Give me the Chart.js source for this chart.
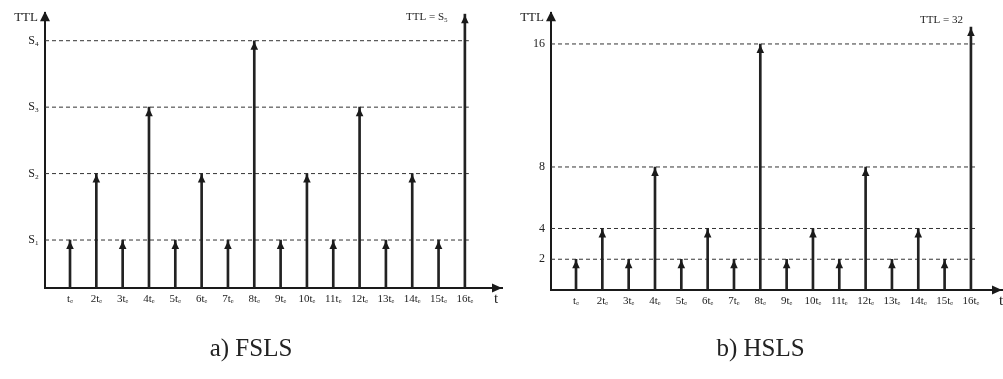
<!DOCTYPE html>
<html><head><meta charset="utf-8">
<script src="https://cdn.jsdelivr.net/npm/chart.js@4.4.1/dist/chart.umd.min.js"></script>
<style>
html,body{margin:0;padding:0;background:#fff;width:1003px;height:379px;overflow:hidden}
#a{position:absolute;left:0;top:0;width:512px;height:379px}
#b{position:absolute;left:519px;top:0;width:484px;height:379px}
</style></head><body>
<div id="a"><canvas id="ca"></canvas></div>
<div id="b"><canvas id="cb"></canvas></div>
<script>
// ---- data ----
const timeSlots = [1,2,3,4,5,6,7,8,9,10,11,12,13,14,15,16];
const timeLabels = ['tₑ','2tₑ','3tₑ','4tₑ','5tₑ','6tₑ','7tₑ','8tₑ','9tₑ','10tₑ','11tₑ','12tₑ','13tₑ','14tₑ','15tₑ','16tₑ'];

const fslsLevelValues = [1,2,3,4];
const fslsLevelLabels = ['S₁','S₂','S₃','S₄'];
// S5 (last slot) is drawn at the top of the axis
const fslsTTL = [1,2,1,3,1,2,1,4,1,2,1,3,1,2,1,4.4];
const fslsTopLabel = 'TTL = S₅';

const hslsLevelValues = [2,4,8,16];
const hslsLevelLabels = ['2','4','8','16'];
// TTL = 32 (last slot) is drawn truncated near the top of the axis
const hslsTTL = [2,4,2,8,2,4,2,16,2,4,2,8,2,4,2,17.1];
const hslsTopLabel = 'TTL = 32';

const SERIF = "'Liberation Serif','DejaVu Serif','Times New Roman',serif";
const INK = '#1a1a1a';

const decor = {
  id: 'decor',
  afterDatasetsDraw(chart, args, o) {
    const {ctx} = chart;
    const meta = chart.getDatasetMeta(0);
    ctx.save();
    ctx.fillStyle = INK;
    meta.data.forEach(el => {
      const x = el.x, y = el.y + 1;
      ctx.beginPath();
      ctx.moveTo(x, y);
      ctx.lineTo(x - 3.8, y + 8);
      ctx.lineTo(x + 3.8, y + 8);
      ctx.closePath();
      ctx.fill();
    });
    const last = meta.data[meta.data.length - 1];
    ctx.font = '11px ' + SERIF;
    ctx.fillStyle = '#222';
    ctx.textAlign = 'right';
    ctx.textBaseline = 'middle';
    ctx.fillText(o.topLabel, last.x + o.topDx, o.topY);
    ctx.restore();
  },
  afterDraw(chart, args, o) {
    const {ctx, chartArea: ca} = chart;
    ctx.save();
    ctx.fillStyle = INK;
    ctx.beginPath();
    ctx.moveTo(ca.left, ca.top - 2);
    ctx.lineTo(ca.left - 5, ca.top + 8);
    ctx.lineTo(ca.left + 5, ca.top + 8);
    ctx.closePath();
    ctx.fill();
    ctx.beginPath();
    ctx.moveTo(ca.right, ca.bottom);
    ctx.lineTo(ca.right - 10, ca.bottom - 4.5);
    ctx.lineTo(ca.right - 10, ca.bottom + 4.5);
    ctx.closePath();
    ctx.fill();
    ctx.fillStyle = '#222';
    ctx.font = '13px ' + SERIF;
    ctx.textAlign = 'right';
    ctx.textBaseline = 'middle';
    ctx.fillText('TTL', ca.left - 7, ca.top + 4);
    ctx.font = '15px ' + SERIF;
    ctx.textAlign = 'center';
    ctx.fillText('t', ca.right + o.tDx, ca.bottom + 11);
    ctx.restore();
  }
};

function makeChart(id, cfg) {
  const levelSets = cfg.levels.map(v => ({
    type: 'line',
    data: [{x: cfg.xMin, y: v}, {x: cfg.levelEnd, y: v}],
    borderColor: '#333',
    borderWidth: 1,
    borderDash: [4, 3],
    pointRadius: 0,
    fill: false,
    order: 2
  }));
  return new Chart(document.getElementById(id), {
    type: 'bar',
    data: {
      datasets: [{
        type: 'bar',
        data: timeSlots.map((x, i) => ({x, y: cfg.values[i]})),
        backgroundColor: '#222',
        borderWidth: 0,
        barThickness: 2,
        order: 0
      }, ...levelSets]
    },
    options: {
      responsive: true,
      maintainAspectRatio: false,
      animation: false,
      events: [],
      layout: {padding: {top: 13, right: cfg.padRight, left: 0, bottom: 0}},
      plugins: {
        legend: {display: false},
        tooltip: {enabled: false},
        title: {
          display: true, text: cfg.title, position: 'bottom',
          font: {family: SERIF, size: 25, weight: 'normal'}, color: '#222',
          padding: {top: 6, bottom: 15}
        },
        decor: {topLabel: cfg.topLabel, topDx: cfg.topDx, topY: cfg.topY, tDx: cfg.tDx}
      },
      scales: {
        x: {
          type: 'linear', min: cfg.xMin, max: cfg.xMax, offset: false,
          grid: {display: false, drawTicks: false},
          border: {display: true, color: INK, width: 2},
          afterBuildTicks: s => { s.ticks = timeSlots.map(v => ({value: v})); },
          afterFit: s => { s.height = cfg.xH; },
          ticks: {
            autoSkip: false, maxRotation: 0, padding: 5, color: '#222',
            font: {family: SERIF, size: 11},
            callback: (v, i) => timeLabels[i]
          }
        },
        y: {
          type: 'linear', min: cfg.yMin, max: cfg.yMax,
          grid: {display: false, drawTicks: false},
          border: {display: true, color: INK, width: 2},
          afterBuildTicks: s => { s.ticks = cfg.levels.map(v => ({value: v})); },
          afterFit: s => { s.width = cfg.yW; },
          ticks: {
            padding: 6, color: '#222',
            font: {family: SERIF, size: 12},
            callback: (v, i) => cfg.levelLabels[i]
          }
        }
      }
    },
    plugins: [decor]
  });
}

makeChart('ca', {
  values: fslsTTL, levels: fslsLevelValues, levelLabels: fslsLevelLabels,
  title: 'a) FSLS', topLabel: fslsTopLabel, topDx: -17, topY: 17, tDx: -6,
  xMin: 0.05, xMax: 17.41, levelEnd: 16.15, yMin: 0.278, yMax: 4.414,
  xH: 40, yW: 45, padRight: 10
});
makeChart('cb', {
  values: hslsTTL, levels: hslsLevelValues, levelLabels: hslsLevelLabels,
  title: 'b) HSLS', topLabel: hslsTopLabel, topDx: -8, topY: 20, tDx: -1,
  xMin: 0.05, xMax: 17.18, levelEnd: 16.2, yMin: 0, yMax: 18,
  xH: 38, yW: 32, padRight: 1
});
</script>
</body></html>
